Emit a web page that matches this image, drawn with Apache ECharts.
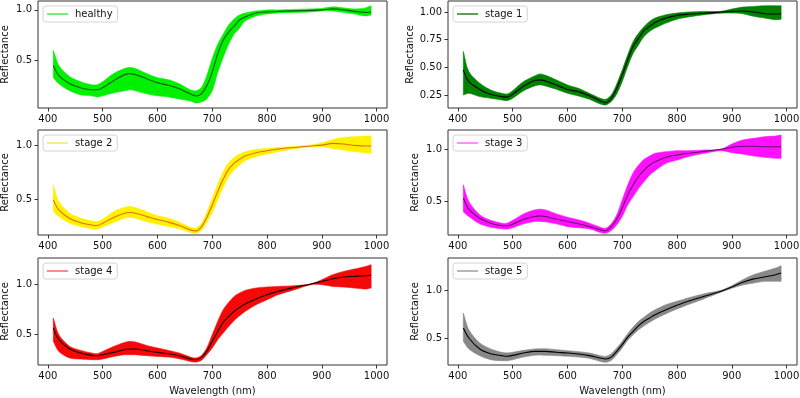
<!DOCTYPE html>
<html>
<head>
<meta charset="utf-8">
<script src="https://cdn.jsdelivr.net/npm/echarts@6/dist/echarts.min.js"></script>
<style>html,body{margin:0;padding:0;background:#fff}</style>
</head>
<body>
<div id="main" style="width:800px;height:398px"></div>
<script>
// wavelengths (nm) where the curves were read
const wavelength = [410,420,440,460,480,490,500,520,540,550,560,580,600,620,640,660,670,680,690,700,710,720,730,740,750,760,780,800,820,850,880,900,920,940,960,980,990];

const xTicks = [400,500,600,700,800,900,1000];
const yTicksHalf = [0.5,1.0];
const yTicksQuarter = [0.25,0.5,0.75,1.0];

const healthyMean  = [0.45,0.35,0.27,0.23,0.21,0.21,0.23,0.30,0.36,0.37,0.36,0.32,0.28,0.255,0.22,0.17,0.15,0.17,0.25,0.385,0.565,0.70,0.78,0.84,0.90,0.93,0.97,0.98,0.985,0.99,0.995,1.0,1.01,1.0,0.985,0.975,0.98];
const healthyUpper = [0.60,0.45,0.34,0.29,0.26,0.26,0.29,0.37,0.42,0.43,0.42,0.37,0.33,0.31,0.27,0.21,0.20,0.23,0.35,0.52,0.66,0.76,0.85,0.91,0.95,0.97,0.99,1.0,1.0,1.005,1.01,1.015,1.03,1.02,1.01,1.02,1.04];
const healthyLower = [0.33,0.27,0.20,0.16,0.15,0.14,0.15,0.18,0.20,0.21,0.20,0.17,0.15,0.14,0.12,0.10,0.08,0.09,0.12,0.20,0.38,0.53,0.66,0.76,0.82,0.89,0.94,0.96,0.97,0.975,0.98,0.99,0.99,0.975,0.96,0.94,0.95];

const stage1Mean  = [0.477,0.37,0.30,0.256,0.235,0.23,0.256,0.33,0.38,0.386,0.377,0.34,0.30,0.28,0.244,0.196,0.18,0.22,0.31,0.43,0.567,0.69,0.764,0.834,0.87,0.906,0.946,0.97,0.98,0.99,1.0,1.006,1.01,1.0,0.985,0.982,0.985];
const stage1Upper = [0.643,0.462,0.356,0.295,0.265,0.259,0.289,0.371,0.422,0.44,0.428,0.386,0.341,0.31,0.265,0.22,0.211,0.25,0.35,0.477,0.613,0.734,0.81,0.87,0.915,0.946,0.976,0.991,1.0,1.006,1.006,1.027,1.045,1.051,1.057,1.057,1.057];
const stage1Lower = [0.25,0.265,0.235,0.22,0.205,0.199,0.22,0.289,0.332,0.341,0.332,0.301,0.265,0.241,0.211,0.168,0.159,0.19,0.259,0.371,0.507,0.628,0.704,0.78,0.825,0.855,0.90,0.936,0.955,0.976,0.99,0.991,0.985,0.961,0.946,0.93,0.936];

const stage2Mean  = [0.494,0.40,0.32,0.28,0.26,0.255,0.276,0.33,0.37,0.376,0.37,0.34,0.31,0.286,0.255,0.214,0.205,0.24,0.33,0.447,0.571,0.686,0.78,0.835,0.873,0.904,0.935,0.953,0.97,0.984,0.997,1.006,1.022,1.016,1.003,0.997,0.997];
const stage2Upper = [0.634,0.478,0.37,0.323,0.298,0.292,0.314,0.385,0.425,0.432,0.422,0.385,0.345,0.323,0.286,0.24,0.23,0.27,0.376,0.509,0.643,0.758,0.842,0.891,0.922,0.944,0.966,0.975,0.984,0.994,1.006,1.028,1.059,1.078,1.084,1.09,1.09];
const stage2Lower = [0.385,0.338,0.276,0.245,0.224,0.221,0.24,0.283,0.323,0.332,0.323,0.292,0.267,0.245,0.224,0.19,0.183,0.208,0.283,0.376,0.494,0.612,0.711,0.773,0.82,0.86,0.898,0.922,0.944,0.972,0.991,0.991,0.975,0.96,0.944,0.935,0.929];

const stage3Mean  = [0.532,0.427,0.34,0.293,0.27,0.268,0.283,0.33,0.357,0.363,0.357,0.33,0.31,0.287,0.26,0.23,0.22,0.26,0.33,0.436,0.564,0.66,0.74,0.80,0.85,0.88,0.924,0.946,0.962,0.98,1.0,1.02,1.03,1.03,1.025,1.025,1.025];
const stage3Upper = [0.659,0.50,0.373,0.32,0.293,0.293,0.32,0.382,0.42,0.427,0.42,0.382,0.35,0.325,0.293,0.255,0.245,0.287,0.373,0.516,0.659,0.777,0.85,0.904,0.936,0.962,0.978,0.987,0.987,0.994,1.0,1.051,1.089,1.105,1.121,1.127,1.137];
const stage3Lower = [0.40,0.357,0.287,0.255,0.24,0.237,0.25,0.287,0.31,0.31,0.306,0.287,0.26,0.25,0.24,0.204,0.197,0.223,0.277,0.357,0.468,0.548,0.627,0.691,0.755,0.796,0.866,0.898,0.93,0.962,0.987,0.968,0.955,0.936,0.924,0.914,0.914];

const stage4Mean  = [0.567,0.45,0.357,0.317,0.293,0.29,0.30,0.323,0.35,0.357,0.357,0.34,0.323,0.31,0.29,0.257,0.25,0.273,0.333,0.433,0.533,0.623,0.683,0.733,0.773,0.807,0.857,0.90,0.933,0.973,1.007,1.033,1.06,1.077,1.083,1.09,1.093];
const stage4Upper = [0.667,0.50,0.383,0.343,0.317,0.31,0.333,0.383,0.423,0.433,0.427,0.393,0.367,0.343,0.317,0.277,0.267,0.29,0.367,0.50,0.633,0.75,0.823,0.883,0.917,0.943,0.967,0.977,0.983,0.99,1.007,1.05,1.10,1.133,1.157,1.183,1.20];
const stage4Lower = [0.433,0.333,0.267,0.257,0.25,0.25,0.257,0.283,0.30,0.30,0.30,0.29,0.283,0.277,0.26,0.233,0.227,0.243,0.30,0.367,0.45,0.517,0.583,0.643,0.69,0.733,0.80,0.85,0.90,0.95,1.0,1.0,0.983,0.977,0.967,0.957,0.967];

const stage5Mean  = [0.605,0.50,0.385,0.336,0.315,0.308,0.318,0.343,0.36,0.36,0.36,0.35,0.343,0.332,0.315,0.29,0.28,0.30,0.36,0.43,0.51,0.57,0.63,0.675,0.71,0.745,0.797,0.843,0.885,0.937,0.99,1.035,1.084,1.12,1.14,1.164,1.182];
const stage5Upper = [0.762,0.587,0.448,0.385,0.35,0.343,0.35,0.371,0.385,0.388,0.388,0.378,0.367,0.357,0.343,0.315,0.308,0.336,0.395,0.465,0.545,0.615,0.675,0.72,0.762,0.797,0.85,0.885,0.92,0.965,1.0,1.049,1.112,1.164,1.20,1.234,1.259];
const stage5Lower = [0.465,0.385,0.315,0.273,0.262,0.262,0.273,0.301,0.318,0.322,0.318,0.315,0.308,0.301,0.287,0.255,0.245,0.266,0.325,0.395,0.476,0.535,0.587,0.629,0.664,0.699,0.755,0.804,0.85,0.913,0.979,1.021,1.056,1.077,1.094,1.094,1.094];

const panels = [
  {name:'healthy', mean:healthyMean, up:healthyUpper, lo:healthyLower, band:'#00f000', line:'#0b5e0b', leg:'#77ee77', ymin:0.03, ymax:1.088, ticks:yTicksHalf, dec:1, left:38, top:1, h:107, gap:28},
  {name:'stage 1', mean:stage1Mean, up:stage1Upper, lo:stage1Lower, band:'#008200', line:'#000000', leg:'#5aa05a', ymin:0.132, ymax:1.10, ticks:yTicksQuarter, dec:2, left:448, top:1, h:107, gap:32},
  {name:'stage 2', mean:stage2Mean, up:stage2Upper, lo:stage2Lower, band:'#fff200', line:'#ea6a10', leg:'#f2ee90', ymin:0.166, ymax:1.147, ticks:yTicksHalf, dec:1, left:38, top:130, h:105, gap:28},
  {name:'stage 3', mean:stage3Mean, up:stage3Upper, lo:stage3Lower, band:'#ff10ff', line:'#6a106a', leg:'#ff90ff', ymin:0.18, ymax:1.185, ticks:yTicksHalf, dec:1, left:448, top:130, h:105, gap:28},
  {name:'stage 4', mean:stage4Mean, up:stage4Upper, lo:stage4Lower, band:'#f50808', line:'#1a0000', leg:'#ff8a8a', ymin:0.197, ymax:1.267, ticks:yTicksHalf, dec:1, left:38, top:258, h:107, gap:28},
  {name:'stage 5', mean:stage5Mean, up:stage5Upper, lo:stage5Lower, band:'#888888', line:'#000000', leg:'#b8b8b8', ymin:0.217, ymax:1.339, ticks:yTicksHalf, dec:1, left:448, top:258, h:107, gap:28}
];

const font = 'DejaVu Sans';
const grid = [], xAxis = [], yAxis = [], legend = [], series = [];

panels.forEach((p, i) => {
  grid.push({left:p.left, top:p.top, width:349, height:p.h, show:true, borderColor:'#333', borderWidth:1,
             backgroundColor:'transparent', outerBoundsMode:'none'});
  xAxis.push({
    type:'value', gridIndex:i, min:382, max:1019,
    name: i >= 4 ? 'Wavelength (nm)' : '', nameLocation:'middle', nameGap:21,
    nameTextStyle:{fontSize:10, fontFamily:font, color:'#111'},
    axisLine:{show:false, onZero:false},
    axisTick:{show:true, length:3.5, customValues:xTicks, lineStyle:{color:'#333'}},
    axisLabel:{customValues:xTicks, fontSize:10, fontFamily:font, color:'#111', margin:6,
               formatter: v => String(v)},
    splitLine:{show:false}
  });
  yAxis.push({
    type:'value', gridIndex:i, min:p.ymin, max:p.ymax,
    name:'Reflectance', nameLocation:'middle', nameRotate:90, nameGap:p.gap,
    nameTextStyle:{fontSize:10, fontFamily:font, color:'#111'},
    axisLine:{show:false, onZero:false},
    axisTick:{show:true, length:3.5, customValues:p.ticks, lineStyle:{color:'#333'}},
    axisLabel:{customValues:p.ticks, fontSize:10, fontFamily:font, color:'#111', margin:6,
               formatter: v => v.toFixed(p.dec)},
    splitLine:{show:false}
  });
  legend.push({
    left:p.left + 5, top:p.top + 5,
    data:[{name:p.name, itemStyle:{color:p.leg}}],
    icon:'rect', itemWidth:21, itemHeight:2,
    padding:[3,5,3,4], borderColor:'#d4d4d4', borderWidth:1, borderRadius:3,
    backgroundColor:'rgba(255,255,255,0.85)', selectedMode:false,
    textStyle:{fontSize:10, fontFamily:font, color:'#111', padding:[0,0,0,2]}
  });
  // spread of all spectra: closed polygon from upper edge and lower edge
  series.push({
    name:p.name, type:'custom', xAxisIndex:i, yAxisIndex:i, silent:true, color:p.band,
    encode:{x:0, y:[1,2]},
    data: wavelength.map((w, k) => [w, p.lo[k], p.up[k]]),
    renderItem: (params, api) => {
      if (params.dataIndex !== 0) return null;
      const n = wavelength.length;
      const pts = [];
      // end points doubled so the smoothing keeps the band ends square
      pts.push(api.coord([wavelength[0], p.up[0]]));
      for (let k = 0; k < n; k++) pts.push(api.coord([wavelength[k], p.up[k]]));
      pts.push(api.coord([wavelength[n - 1], p.up[n - 1]]));
      pts.push(api.coord([wavelength[n - 1], p.lo[n - 1]]));
      for (let k = n - 1; k >= 0; k--) pts.push(api.coord([wavelength[k], p.lo[k]]));
      pts.push(api.coord([wavelength[0], p.lo[0]]));
      return {type:'polygon', shape:{points:pts, smooth:0.3}, style:{fill:p.band, stroke:p.band, lineWidth:0.6}};
    }
  });
  series.push({
    name:p.name + ' mean', type:'line', xAxisIndex:i, yAxisIndex:i, smooth:0.3,
    symbol:'none', silent:true, lineStyle:{width:1.1, color:p.line}, z:5,
    data: wavelength.map((w, k) => [w, p.mean[k]])
  });
});

const chart = echarts.init(document.getElementById('main'), null, {renderer:'canvas'});
chart.setOption({animation:false, backgroundColor:'#fff', grid, xAxis, yAxis, legend, series});
</script>
</body>
</html>
